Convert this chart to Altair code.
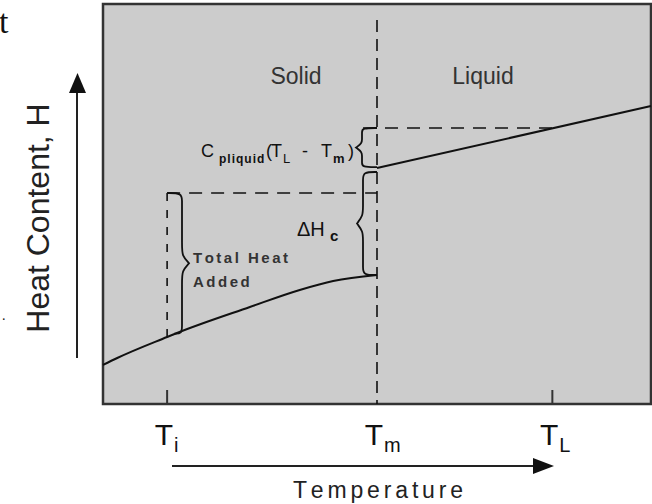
import altair as alt
import pandas as pd

# ---------------------------------------------------------------------------
# Schematic values (temperature on x, heat content on y, both 0..100 units)
# ---------------------------------------------------------------------------
T_I, T_M, T_L = 11.7, 50.0, 82.0            # initial, melting, liquid temperatures
tick_names = ["T", "T", "T"]
tick_subs = ["i", "m", "L"]

# heat content of the solid phase up to the melting point
solid_T = [0.0, 2.6, 11.7, 13.5, 26.8, 35.9, 42.0, 50.0]
solid_H = [9.75, 11.5, 16.75, 17.75, 24.25, 28.5, 30.75, 32.25]

# heat content of the liquid phase
liquid_T = [50.0, 100.0]
liquid_H = [59.0, 74.5]

H_TOTAL = 52.75      # level reached by the total heat added from T_i
H_SOL_TM = 32.25     # solid at T_m
H_LIQ_TM = 58.0      # bottom of the liquid jump bracket
H_LIQ_TL = 69.0      # liquid at T_L
H_SOL_TI = 17.6      # solid just right of T_i

# ---------------------------------------------------------------------------
# Layout
# ---------------------------------------------------------------------------
LEFT, TOP, W, H = 103, 4, 548, 400
INK = "#111111"
TXT = "#333333"
SANS = "Liberation Sans"
HS = "\u200a"          # hair space, used to open up tracking

xs = alt.Scale(domain=[0, 100], nice=False, zero=False)
ys = alt.Scale(domain=[0, 100], nice=False, zero=False)
X = lambda f="x": alt.X(f"{f}:Q", scale=xs, axis=None)
Y = lambda f="y": alt.Y(f"{f}:Q", scale=ys, axis=None)

one = pd.DataFrame({"k": [0]})


def spaced(word, n=1):
    return (HS * n).join(word)


def label(text, ax, ay, size, align="left", weight="normal", font=SANS,
          color=TXT, angle=None):
    kw = dict(text=text, fontSize=size, align=align, font=font,
              fontWeight=weight, color=color, baseline="alphabetic")
    if angle is not None:
        kw["angle"] = angle
    return alt.Chart(one).mark_text(**kw).encode(
        x=alt.value(ax - LEFT), y=alt.value(ay - TOP))


def seg_df(x0, y0, x1, y1):
    return pd.DataFrame({"x": [x0], "y": [y0], "x2": [x1], "y2": [y1]})


def dashed(x0, y0, x1, y1, dash):
    return alt.Chart(seg_df(x0, y0, x1, y1)).mark_rule(
        color=INK, strokeWidth=1.6, strokeDash=dash).encode(
        x=X(), y=Y(), x2="x2:Q", y2="y2:Q")


def brace(name, xe_top, xe_bot, x_spine, x_tip, h_top, h_bot, r):
    """Control points of a curly bracket, smoothed with a B-spline."""
    hm = (h_top + h_bot) / 2
    s = 1 if h_top > h_bot else -1
    pts = [(xe_top, h_top), (x_spine, h_top), (x_spine, h_top - s * r),
           (x_spine, h_top - 2 * s * r), (x_spine, hm + 2 * s * r),
           (x_spine, hm + s * r), (x_tip, hm), (x_tip, hm), (x_tip, hm),
           (x_spine, hm - s * r), (x_spine, hm - 2 * s * r),
           (x_spine, h_bot + 2 * s * r), (x_spine, h_bot + s * r),
           (x_spine, h_bot), (xe_bot, h_bot)]
    return pd.DataFrame({"x": [p[0] for p in pts], "y": [p[1] for p in pts],
                         "i": range(len(pts)), "b": name})


px = lambda ax: (ax - LEFT) / W * 100      # pixel offsets -> temperature units
braces = pd.concat([
    brace("total", T_I, 13.0, px(182), px(189), H_TOTAL, H_SOL_TI, 2.0),
    brace("latent", T_M, T_M, px(363), px(357), H_LIQ_TM, H_SOL_TM, 2.0),
    brace("cp", T_M, T_M, px(362), px(356), H_LIQ_TL, liquid_H[0] + 0.2, 1.1),
])

solid = pd.DataFrame({"x": solid_T, "y": solid_H})
liquid = pd.DataFrame({"x": liquid_T, "y": liquid_H})
ticks = pd.DataFrame({"x": [T_I, T_M, T_L], "name": tick_names,
                      "sub": tick_subs})

layers = [
    # phase curves
    alt.Chart(solid).mark_line(color=INK, strokeWidth=2,
                               interpolate="monotone").encode(x=X(), y=Y()),
    alt.Chart(liquid).mark_line(color=INK, strokeWidth=2).encode(x=X(), y=Y()),
    # melting point divider and guide lines
    dashed(T_M, 96, T_M, 0, [12, 7]),
    dashed(T_I, H_TOTAL, T_M, H_TOTAL, [13, 9]),
    dashed(T_I, H_TOTAL, T_I, H_SOL_TI - 0.8, [8, 9]),
    dashed(px(363), H_LIQ_TL, T_L, H_LIQ_TL, [13, 9]),
    # short ticks at T_i and T_L on the bottom edge
    alt.Chart(ticks[ticks["sub"] != "m"]).mark_rule(
        color="#333333", strokeWidth=2).encode(
        x=X(), y=alt.value(H), y2=alt.value(H - 14)),
    # brackets
    alt.Chart(braces).mark_line(color=INK, strokeWidth=1.8,
                                interpolate="basis").encode(
        x=X(), y=Y(), detail="b:N", order="i:Q"),
    # tick labels
    alt.Chart(ticks).mark_text(fontSize=30, font=SANS, color=INK,
                               align="right", baseline="alphabetic",
                               dx=6).encode(
        x=X(), y=alt.value(445 - TOP), text="name:N"),
    alt.Chart(ticks).mark_text(fontSize=20, font=SANS, color=INK,
                               align="left", baseline="alphabetic",
                               dx=7).encode(
        x=X(), y=alt.value(452 - TOP), text="sub:N"),
    # axis arrows
    alt.Chart(one).mark_rule(color="#222222", strokeWidth=2).encode(
        x=alt.value(77 - LEFT), y=alt.value(358 - TOP), y2=alt.value(90 - TOP)),
    alt.Chart(one).mark_point(shape="M0,-1L0.85,1L-0.85,1Z", size=400,
                              filled=True, color="#111111", opacity=1).encode(
        x=alt.value(77.5 - LEFT), y=alt.value(83 - TOP)),
    alt.Chart(one).mark_rule(color="#222222", strokeWidth=2).encode(
        x=alt.value(172 - LEFT), x2=alt.value(538 - LEFT),
        y=alt.value(466 - TOP)),
    alt.Chart(one).mark_point(shape="M1,0L-1,-0.76L-1,0.76Z", size=441,
                              filled=True, color="#111111", opacity=1).encode(
        x=alt.value(543.5 - LEFT), y=alt.value(466 - TOP)),
    # region names
    label("Solid", 296, 84, 23, align="center"),
    label("Liquid", 483, 84, 23, align="center"),
    # annotations
    label(spaced("Total Heat", 2), 193, 263, 15, weight="bold"),
    label(spaced("Added", 2), 193, 287, 15, weight="bold"),
    label("\u0394H", 297, 236, 20, color=INK),
    label("c", 330, 241, 15, weight="bold", color=INK),
    label("C", 201, 157, 18, color=INK),
    label(spaced("pliquid"), 219, 163, 12, weight="bold", color=INK),
    label("(", 266, 157, 18, color=INK),
    label("T", 271, 157, 18, color=INK),
    label("L", 283, 163, 13, color=INK),
    label("-", 302, 157, 18, color=INK),
    label("T", 321, 157, 18, color=INK),
    label("m", 333, 163, 13, weight="bold", color=INK),
    label(")", 348, 157, 18, color=INK),
    # axis titles
    label("Heat Content, H", 49, 218, 32, align="center",
          color="#222222", angle=270),
    label(spaced("Temperature", 2), 378, 498, 23, align="center",
          color="#222222"),
    # fragments of surrounding text at the page edge
    label("t", -1, 33, 34, font="Liberation Serif", color="#111111"),
    label(".", 2, 320, 14, font="Liberation Serif", color="#111111"),
]

chart = alt.layer(*layers).properties(
    width=W, height=H, autosize="none", background="white",
    padding={"left": LEFT, "top": TOP, "right": 652 - LEFT - W,
             "bottom": 504 - TOP - H},
).configure_view(fill="#cccccc", stroke="#333333", strokeWidth=2.5)

chart.save("out.html", embed_options={"renderer": "svg", "actions": False})
